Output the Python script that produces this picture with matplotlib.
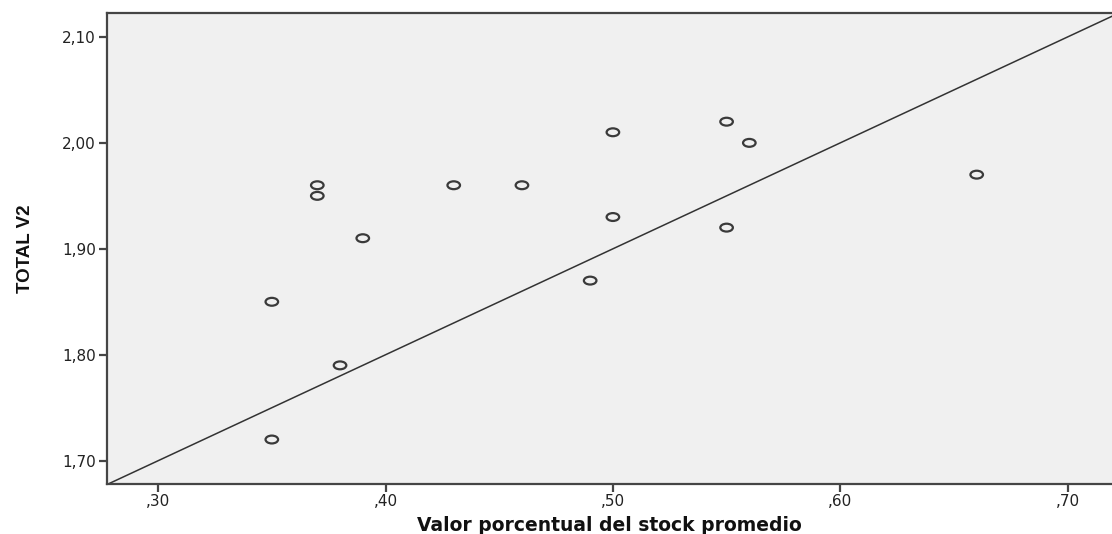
import matplotlib
matplotlib.use("Agg")
from matplotlib import pyplot as plt
from matplotlib.markers import MarkerStyle
from matplotlib.transforms import Affine2D
from matplotlib.ticker import FuncFormatter, MultipleLocator

# === Datos ===
stock_pct = [0.35, 0.35, 0.37, 0.37, 0.38, 0.39, 0.43, 0.46, 0.49, 0.50, 0.50, 0.55, 0.55, 0.56, 0.66]
total_v2 = [1.85, 1.72, 1.96, 1.95, 1.79, 1.91, 1.96, 1.96, 1.87, 2.01, 1.93, 2.02, 1.92, 2.00, 1.97]

# linea de referencia y = a + b*x
ref_intercept = 1.40
ref_slope = 1.0

x_lim = (0.2775, 0.7195)
y_lim = (1.678, 2.1226)

FRAME = "#454545"
BG = "#F0F0F0"
TXT = "#222222"

plt.rcParams["font.family"] = ["DejaVu Sans"]

fig = plt.figure(figsize=(11.12, 5.34), dpi=100)
ax = fig.add_axes([0.0962, 0.0936, 0.9038, 0.8821])
ax.set_facecolor(BG)

ax.axline((0, ref_intercept), slope=ref_slope, color="#333333", linewidth=1.1, zorder=2)

# marcador ovalado (como SPSS estirado)
oval = MarkerStyle("o", transform=Affine2D().scale(1.6, 1.0))
ax.scatter(stock_pct, total_v2, marker=oval, s=32, facecolors="none",
           edgecolors="#3a3a3a", linewidths=1.6, zorder=3)

ax.set_xlim(*x_lim)
ax.set_ylim(*y_lim)
ax.xaxis.set_major_locator(MultipleLocator(0.1))
ax.yaxis.set_major_locator(MultipleLocator(0.1))
ax.xaxis.set_major_formatter(FuncFormatter(lambda v, p: f"{v:.2f}".lstrip("0").replace(".", ",")))
ax.yaxis.set_major_formatter(FuncFormatter(lambda v, p: f"{v:.2f}".replace(".", ",")))

for side, sp in ax.spines.items():
    sp.set_color(FRAME)
    sp.set_linewidth(1.6)
ax.spines["right"].set_visible(False)

ax.tick_params(axis="both", direction="out", length=6, width=1.6, color=FRAME,
               labelsize=11, labelcolor=TXT)
ax.tick_params(axis="x", pad=1)
ax.tick_params(axis="y", pad=2)

ax.set_xlabel("Valor porcentual del stock promedio", fontsize=13.5, fontweight="bold",
              color="#111111", labelpad=5)
ax.set_ylabel("TOTAL V2", fontsize=13.5, fontweight="bold", color="#111111",
              family=["DejaVu Sans Condensed", "Liberation Sans Narrow", "Liberation Sans"],
              labelpad=20)

fig.savefig("out.png", dpi=100, facecolor="white")
plt.close(fig)
